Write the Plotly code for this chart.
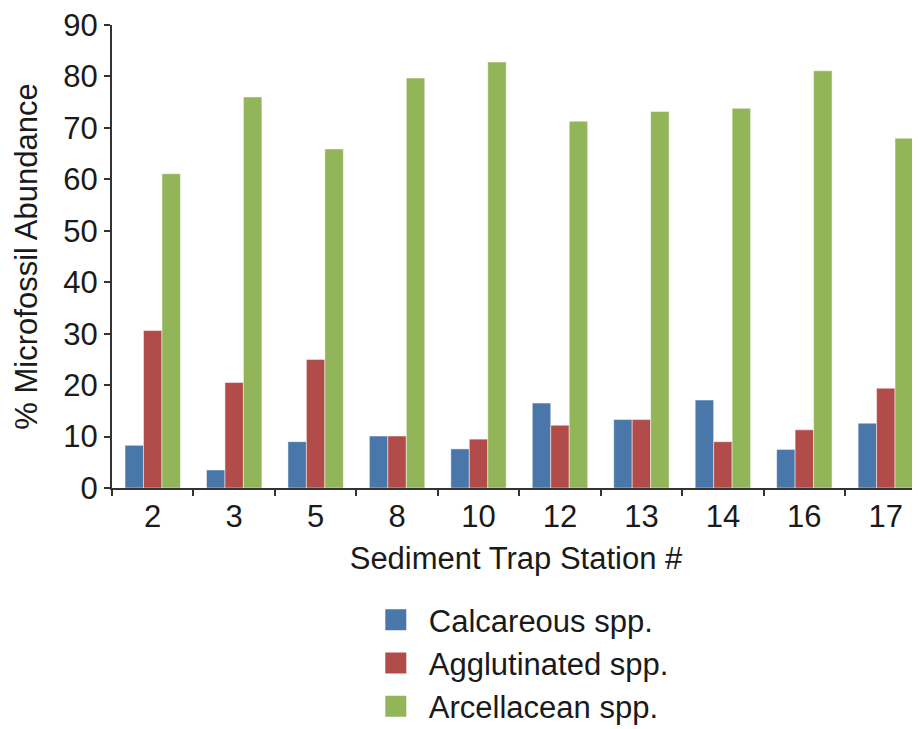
import plotly.graph_objects as go

stations = ["2", "3", "5", "8", "10", "12", "13", "14", "16", "17"]
calcareous = [8.3, 3.5, 9.0, 10.1, 7.6, 16.5, 13.3, 17.1, 7.5, 12.6]
agglutinated = [30.6, 20.5, 25.0, 10.1, 9.5, 12.2, 13.3, 9.0, 11.3, 19.4]
arcellacean = [61.1, 76.0, 65.9, 79.7, 82.8, 71.3, 73.2, 73.8, 81.1, 68.0]

series = [
    ("Calcareous spp.", calcareous, "#4a77aa"),
    ("Agglutinated spp.", agglutinated, "#b14c4a"),
    ("Arcellacean spp.", arcellacean, "#93b55a"),
]

FONT = "Liberation Sans, Arial, sans-serif"
FS = 31
TXT = "#1a1a1a"

fig = go.Figure()
for name, vals, col in series:
    fig.add_trace(go.Bar(
        x=stations, y=vals, name=name, showlegend=False,
        marker=dict(color=col, line=dict(color="rgba(255,255,255,0.6)", width=0.8)),
    ))
for name, vals, col in series:
    fig.add_trace(go.Scatter(
        x=[None], y=[None], mode="markers", name=name,
        marker=dict(symbol="square", size=22, color=col, line=dict(color=col, width=5)),
    ))

# page body has an 8px margin, so the figure is 8px smaller and offset
fig.update_layout(
    width=912, height=721,
    margin=dict(l=104, r=0, t=17, b=241, autoexpand=False),
    paper_bgcolor="white", plot_bgcolor="white",
    barmode="group", bargap=0.32, bargroupgap=0,
    font=dict(family=FONT, size=FS, color=TXT),
    showlegend=True,
    legend=dict(
        x=0.3104, y=0.1885, xanchor="left", yanchor="top", yref="container",
        font=dict(family=FONT, size=FS, color=TXT),
        itemwidth=56,
    ),
)
fig.update_xaxes(
    type="category", range=[-0.5, 9.42],
    showline=True, linecolor="#333333", linewidth=2,
    ticks="outside", tickson="boundaries", ticklen=6, tickwidth=2, tickcolor="#333333",
    tickfont=dict(family=FONT, size=FS, color=TXT),
    title=dict(text="Sediment Trap Station #", font=dict(family=FONT, size=FS, color=TXT), standoff=14),
    showgrid=False, ticklabeloverflow="allow",
)
fig.update_yaxes(
    range=[0, 90], dtick=10,
    showline=True, linecolor="#333333", linewidth=2,
    ticks="outside", ticklen=6, tickwidth=2, tickcolor="#333333",
    tickfont=dict(family=FONT, size=FS, color=TXT),
    title=dict(text="% Microfossil Abundance", font=dict(family=FONT, size=FS, color=TXT), standoff=16),
    showgrid=False, zeroline=False, ticklabeloverflow="allow",
)

fig.write_html("out.html")
